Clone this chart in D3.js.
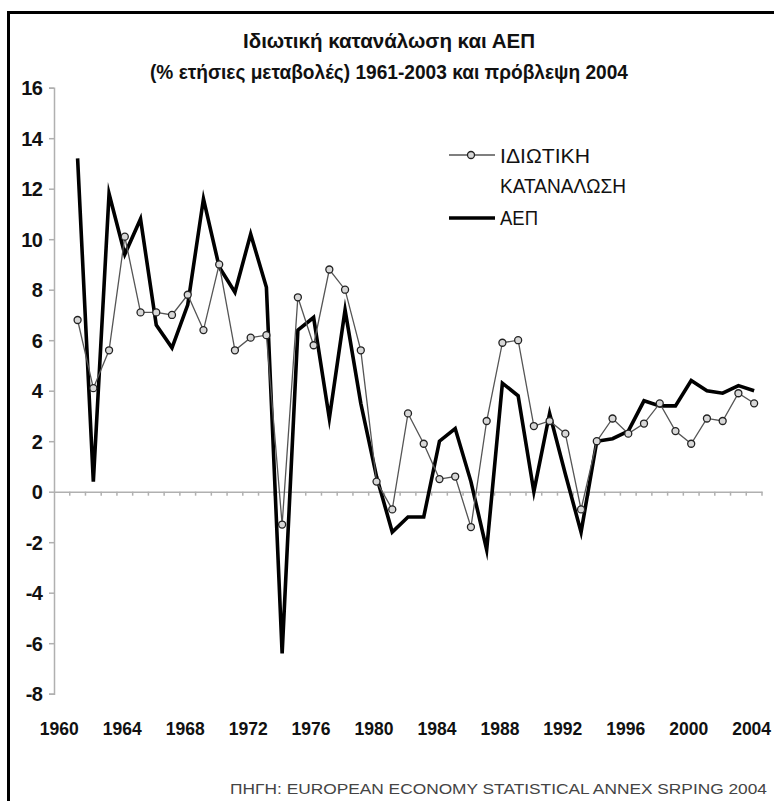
<!DOCTYPE html>
<html>
<head>
<meta charset="utf-8">
<script src="https://cdn.jsdelivr.net/npm/d3@7"></script>
<style>
  html, body { margin: 0; padding: 0; background: #fff; }
  svg { display: block; }
  text { font-family: "Liberation Sans", Arial, sans-serif; }
</style>
</head>
<body>
<svg id="chart" width="774" height="801"></svg>
<script>
const years = d3.range(1960, 2005);
const dataYears = d3.range(1961, 2005);
const consumption = [6.8, 4.1, 5.6, 10.1, 7.1, 7.1, 7.0, 7.8, 6.4, 9.0, 5.6, 6.1, 6.2, -1.3, 7.7, 5.8, 8.8, 8.0, 5.6, 0.4, -0.7, 3.1, 1.9, 0.5, 0.6, -1.4, 2.8, 5.9, 6.0, 2.6, 2.8, 2.3, -0.7, 2.0, 2.9, 2.3, 2.7, 3.5, 2.4, 1.9, 2.9, 2.8, 3.9, 3.5];
const gdp = [13.2, 0.4, 11.8, 9.4, 10.8, 6.6, 5.7, 7.4, 11.6, 8.9, 7.9, 10.2, 8.1, -6.4, 6.4, 6.9, 2.9, 7.2, 3.5, 0.6, -1.6, -1.0, -1.0, 2.0, 2.5, 0.4, -2.3, 4.3, 3.8, 0.0, 3.1, 0.7, -1.6, 2.0, 2.1, 2.4, 3.6, 3.4, 3.4, 4.4, 4.0, 3.9, 4.2, 4.0];
const yTicks = [16, 14, 12, 10, 8, 6, 4, 2, 0, -2, -4, -6, -8];
const xTickLabels = [1960, 1964, 1968, 1972, 1976, 1980, 1984, 1988, 1992, 1996, 2000, 2004];
const titleLines = ["Ιδιωτική κατανάλωση και ΑΕΠ", "(% ετήσιες μεταβολές) 1961-2003 και πρόβλεψη 2004"];
const seriesNames = ["ΙΔΙΩΤΙΚΗ", "ΚΑΤΑΝΑΛΩΣΗ", "ΑΕΠ"];
const sourceText = "ΠΗΓΗ: EUROPEAN ECONOMY STATISTICAL ANNEX SRPING 2004";

const svg = d3.select("#chart");

// frame (left and top visible)
svg.append("path")
  .attr("d", "M8.5,801 V12.5 H774")
  .attr("fill", "none").attr("stroke", "#000").attr("stroke-width", 3);

const x = d3.scaleBand().domain(years).range([54, 762]).padding(0);
const y = d3.scaleLinear().domain([-8, 16]).range([693.7, 87.7]);
const cx = yr => x(yr) + x.bandwidth() / 2;

// title
svg.append("text").attr("x", 389).attr("y", 48).attr("text-anchor", "middle")
  .attr("font-size", 21).attr("font-weight", "bold").attr("fill", "#111")
  .attr("textLength", 292).attr("lengthAdjust", "spacingAndGlyphs")
  .text(titleLines[0]);
svg.append("text").attr("x", 389).attr("y", 79).attr("text-anchor", "middle")
  .attr("font-size", 21).attr("font-weight", "bold").attr("fill", "#111")
  .attr("textLength", 478).attr("lengthAdjust", "spacingAndGlyphs")
  .text(titleLines[1]);

// y axis
const yAxis = d3.axisLeft(y).tickValues(yTicks).tickSize(5).tickFormat(d => String(d));
const gy = svg.append("g").attr("transform", "translate(54,0)").call(yAxis);
gy.select(".domain").attr("stroke", "#b0b0b0").attr("stroke-width", 1.5);
gy.selectAll(".tick line").attr("stroke", "#b0b0b0").attr("stroke-width", 1.5);
gy.selectAll(".tick text").attr("font-size", 20).attr("font-weight", "bold")
  .attr("fill", "#111").attr("x", -12).attr("dy", "0.36em")
  .attr("letter-spacing", -0.8)
  .attr("font-family", "'Liberation Sans', Arial, sans-serif");

// x axis at zero
const xAxis = d3.axisBottom(x).tickSize(0).tickFormat("");
const gx = svg.append("g").attr("transform", `translate(0,${y(0)})`).call(xAxis);
gx.select(".domain").attr("stroke", "#b0b0b0").attr("stroke-width", 1.5);
// band boundary ticks
gx.selectAll("line.bt").data(years.slice(1)).enter().append("line")
  .attr("class", "bt")
  .attr("x1", d => x(d)).attr("x2", d => x(d))
  .attr("y1", 0).attr("y2", 4)
  .attr("stroke", "#b0b0b0").attr("stroke-width", 1.5);
gx.append("line").attr("x1", 762).attr("x2", 762).attr("y1", 0).attr("y2", 4)
  .attr("stroke", "#b0b0b0").attr("stroke-width", 1.5);

// x labels
svg.append("g").selectAll("text").data(xTickLabels).enter().append("text")
  .attr("x", d => cx(d) - 2.5).attr("y", 735).attr("text-anchor", "middle")
  .attr("font-size", 18.5).attr("font-weight", "bold").attr("fill", "#111")
  .attr("textLength", 39).attr("lengthAdjust", "spacingAndGlyphs")
  .text(d => d);

// GDP line
const line = d3.line().x((d, i) => cx(dataYears[i])).y(d => y(d));
svg.append("path").datum(gdp).attr("d", line)
  .attr("fill", "none").attr("stroke", "#000").attr("stroke-width", 3.6)
  .attr("stroke-linejoin", "miter").attr("stroke-miterlimit", 10);

// Consumption line
svg.append("path").datum(consumption).attr("d", line)
  .attr("fill", "none").attr("stroke", "#555").attr("stroke-width", 1.3);
svg.append("g").selectAll("circle").data(consumption).enter().append("circle")
  .attr("cx", (d, i) => cx(dataYears[i])).attr("cy", d => y(d)).attr("r", 3.5)
  .attr("fill", "#d8d8d8").attr("stroke", "#222").attr("stroke-width", 1.3);

// legend
const lg = svg.append("g");
lg.append("line").attr("x1", 449).attr("x2", 495).attr("y1", 155).attr("y2", 155)
  .attr("stroke", "#555").attr("stroke-width", 1.3);
lg.append("circle").attr("cx", 471).attr("cy", 155).attr("r", 3.5)
  .attr("fill", "#d8d8d8").attr("stroke", "#222").attr("stroke-width", 1.3);
lg.append("text").attr("x", 500).attr("y", 163).attr("font-size", 20).attr("fill", "#111")
  .attr("textLength", 90).attr("lengthAdjust", "spacingAndGlyphs").text(seriesNames[0]);
lg.append("text").attr("x", 500).attr("y", 193).attr("font-size", 20).attr("fill", "#111")
  .attr("textLength", 126).attr("lengthAdjust", "spacingAndGlyphs").text(seriesNames[1]);
lg.append("line").attr("x1", 449).attr("x2", 495).attr("y1", 218).attr("y2", 218)
  .attr("stroke", "#000").attr("stroke-width", 3.6);
lg.append("text").attr("x", 500).attr("y", 225).attr("font-size", 20).attr("fill", "#111")
  .attr("textLength", 38).attr("lengthAdjust", "spacingAndGlyphs").text(seriesNames[2]);

// source
svg.append("text").attr("x", 230).attr("y", 794).attr("font-size", 15).attr("fill", "#444")
  .attr("textLength", 537).attr("lengthAdjust", "spacingAndGlyphs")
  .text(sourceText);
</script>
</body>
</html>
